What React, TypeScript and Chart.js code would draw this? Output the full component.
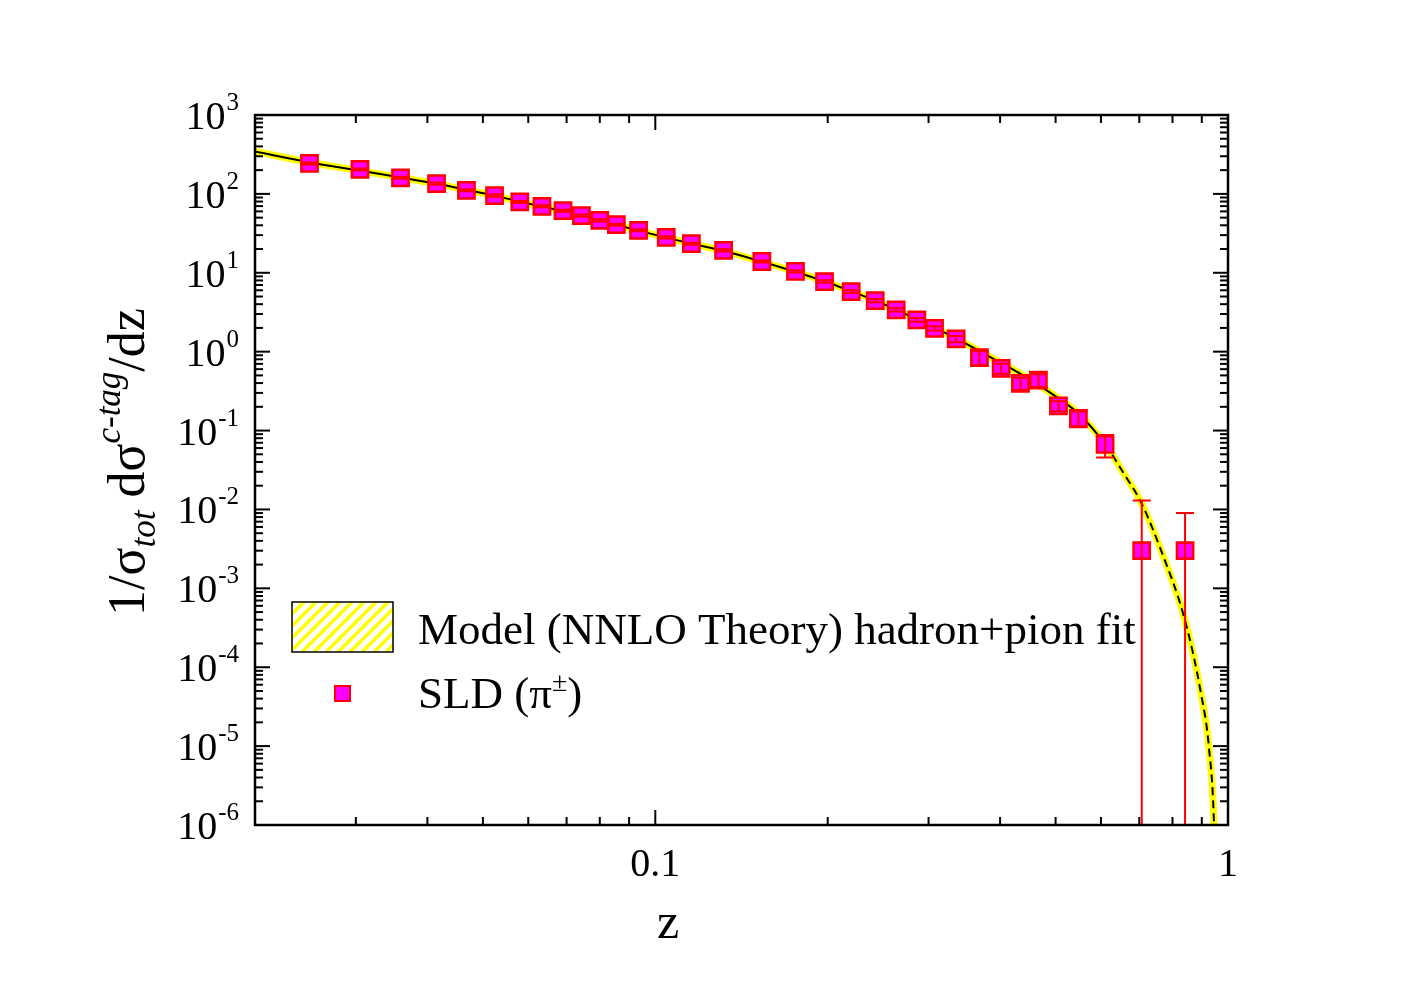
import { useEffect, useRef } from "react";
import { Chart, registerables } from "chart.js";

Chart.register(...registerables);

// SLD charged-pion fragmentation, c-tagged events
const sldZ = [
  0.0249, 0.0305, 0.0359, 0.0415, 0.0468, 0.0524, 0.058, 0.0634, 0.069, 0.0743,
  0.08, 0.0855, 0.0935, 0.1045, 0.1156, 0.1316, 0.1535, 0.1757, 0.1975, 0.2198,
  0.2421, 0.2634, 0.2862, 0.3073, 0.3352, 0.3681, 0.4017, 0.4341, 0.4666, 0.5057,
  0.548, 0.6101, 0.7069, 0.8414,
];
const sldValue = [
  243, 204, 160, 135, 111, 95.1, 79.1, 69.6, 61.3, 53.0,
  46.2, 40.7, 34.5, 28.1, 23.4, 19.2, 13.9, 10.4, 7.75, 5.78,
  4.44, 3.39, 2.53, 1.98, 1.45, 0.839, 0.615, 0.396, 0.437, 0.206,
  0.1425, 0.0666, 0.003, 0.003,
];
const sldError = [
  7, 6, 5, 4, 3.3, 2.8, 2.4, 2.1, 1.8, 1.6,
  1.4, 1.2, 1.0, 0.85, 0.7, 0.6, 0.45, 0.35, 0.28, 0.22,
  0.2, 0.17, 0.14, 0.12, 0.13, 0.17, 0.09, 0.07, 0.08, 0.03,
  0.032, 0.021, 0.01, 0.006,
];

// NNLO model curve (hadron+pion fit)
const modelZ = [
  0.02, 0.025, 0.0304, 0.0359, 0.0415, 0.0468, 0.0524, 0.0579, 0.0635, 0.0691,
  0.0743, 0.0799, 0.0855, 0.0934, 0.1045, 0.1156, 0.1314, 0.1537, 0.1755, 0.1972,
  0.2198, 0.2421, 0.2634, 0.2865, 0.3068, 0.3352, 0.3676, 0.4017, 0.4335, 0.4661,
  0.505, 0.5473, 0.6101, 0.6557, 0.705, 0.7641, 0.8414, 0.8973, 0.9264, 0.9454,
  0.952,
];
const modelValue = [
  345, 250, 198, 161, 135, 112, 95.1, 79.9, 69.0, 60.4,
  53.0, 46.5, 40.7, 34.2, 27.9, 23.4, 19.0, 13.8, 10.3, 7.8,
  5.82, 4.47, 3.39, 2.57, 2.03, 1.47, 1.02, 0.718, 0.528, 0.383,
  0.258, 0.166, 0.0672, 0.0296, 0.0123, 0.00302, 3.9e-4, 4.6e-5, 9.5e-6, 1.0e-6,
  1e-7,
];
// beyond this z the curve is an extrapolation (dashed)
const dashedFromZ = 0.55;

const yDecades = [3, 2, 1, 0, -1, -2, -3, -4, -5, -6];
const minorMultipliers = [2, 3, 4, 5, 6, 7, 8, 9];
const xDecadeStarts = [0.01, 0.1];
const xTickLabels = [
  { value: 0.1, text: "0.1" },
  { value: 1, text: "1" },
];

const legendModel = "Model (NNLO Theory) hadron+pion fit";
const legendData = ["SLD (\u03c0", "\u00b1", ")"];

const SERIF = '"Liberation Serif", "Times New Roman", serif';
const YELLOW = "#ffff00";
const MAGENTA = "#ff00ff";
const RED = "#ff0000";

type Piece = { text: string; font: string; shift: number };

function drawPieces(ctx: CanvasRenderingContext2D, pieces: Piece[], x: number, y: number) {
  let cx = x;
  for (const p of pieces) {
    ctx.font = p.font;
    ctx.fillText(p.text, cx, y + p.shift);
    cx += ctx.measureText(p.text).width;
  }
}

const errorBarPlugin = {
  id: "errorBars",
  afterDatasetsDraw(chart: any) {
    const { ctx, chartArea: a, scales } = chart;
    const xs = scales.x;
    const ys = scales.y;
    ctx.save();
    ctx.beginPath();
    ctx.rect(a.left, a.top, a.right - a.left, a.bottom - a.top);
    ctx.clip();
    ctx.strokeStyle = RED;
    ctx.lineWidth = 2;
    const cap = 9;
    sldZ.forEach((z, i) => {
      const px = xs.getPixelForValue(z);
      const hi = sldValue[i] + sldError[i];
      const lo = sldValue[i] - sldError[i];
      const pyHi = ys.getPixelForValue(hi);
      const pyLo = lo > 0 ? ys.getPixelForValue(lo) : a.bottom + 20;
      ctx.beginPath();
      ctx.moveTo(px, pyHi);
      ctx.lineTo(px, pyLo);
      ctx.moveTo(px - cap, pyHi);
      ctx.lineTo(px + cap, pyHi);
      if (lo > 0) {
        ctx.moveTo(px - cap, pyLo);
        ctx.lineTo(px + cap, pyLo);
      }
      ctx.stroke();
    });
    ctx.restore();
  },
};

const framePlugin = {
  id: "frameAndLabels",
  afterDraw(chart: any) {
    const { ctx, chartArea: a, scales } = chart;
    const xs = scales.x;
    const ys = scales.y;
    ctx.save();
    ctx.strokeStyle = "#000";
    ctx.fillStyle = "#000";
    ctx.lineWidth = 2.5;
    ctx.lineCap = "butt";

    // frame
    ctx.strokeRect(a.left, a.top, a.right - a.left, a.bottom - a.top);
    ctx.lineWidth = 2;

    const seg = (x1: number, y1: number, x2: number, y2: number) => {
      ctx.beginPath();
      ctx.moveTo(x1, y1);
      ctx.lineTo(x2, y2);
      ctx.stroke();
    };
    const majorLen = 15;
    const minorLen = 8;

    // y ticks, inward on both sides
    yDecades.forEach((e) => {
      const base = Math.pow(10, e);
      const py = ys.getPixelForValue(base);
      seg(a.left, py, a.left + majorLen, py);
      seg(a.right, py, a.right - majorLen, py);
      if (e < 3) {
        minorMultipliers.forEach((m) => {
          const pm = ys.getPixelForValue(m * base);
          seg(a.left, pm, a.left + minorLen, pm);
          seg(a.right, pm, a.right - minorLen, pm);
        });
      }
    });

    // x ticks, inward on both sides
    xDecadeStarts.forEach((base) => {
      minorMultipliers.forEach((m) => {
        const v = m * base;
        if (v <= 0.02) return;
        const px = xs.getPixelForValue(v);
        seg(px, a.bottom, px, a.bottom - minorLen);
        seg(px, a.top, px, a.top + minorLen);
      });
    });
    xTickLabels.forEach((t) => {
      const px = xs.getPixelForValue(t.value);
      seg(px, a.bottom, px, a.bottom - majorLen);
      seg(px, a.top, px, a.top + majorLen);
    });

    // y tick labels 10^n
    ctx.textBaseline = "alphabetic";
    yDecades.forEach((e) => {
      const py = ys.getPixelForValue(Math.pow(10, e));
      const expText = String(e);
      ctx.font = `25px ${SERIF}`;
      const wExp = ctx.measureText(expText).width;
      ctx.textAlign = "left";
      const right = 239;
      ctx.fillText(expText, right - wExp, py - 5);
      ctx.font = `40px ${SERIF}`;
      ctx.textAlign = "right";
      ctx.fillText("10", right - wExp - 1, py + 14);
    });

    // x tick labels
    ctx.textAlign = "center";
    ctx.font = `40px ${SERIF}`;
    xTickLabels.forEach((t) => {
      const px = xs.getPixelForValue(t.value);
      ctx.fillText(t.text, px, a.bottom + 51);
    });

    // x title
    ctx.font = `50px ${SERIF}`;
    ctx.fillText("z", 668, 938);

    // y title, rotated
    ctx.save();
    ctx.translate(144, 616);
    ctx.rotate(-Math.PI / 2);
    ctx.textAlign = "left";
    const main = `52px ${SERIF}`;
    const small = `italic 35px ${SERIF}`;
    drawPieces(
      ctx,
      [
        { text: "1/\u03c3", font: main, shift: 0 },
        { text: "tot", font: small, shift: 11 },
        { text: " d\u03c3", font: main, shift: 0 },
        { text: "c-tag", font: small, shift: -24 },
        { text: "/dz", font: main, shift: 0 },
      ],
      0,
      0
    );
    ctx.restore();

    // legend: hatched model box
    const bx = 292, by = 602, bw = 101, bh = 50;
    ctx.save();
    ctx.beginPath();
    ctx.rect(bx, by, bw, bh);
    ctx.clip();
    ctx.strokeStyle = YELLOW;
    ctx.lineWidth = 3.5;
    for (let k = -bh; k < bw + bh; k += 12) {
      seg(bx + k, by + bh, bx + k + bh, by);
    }
    ctx.restore();
    ctx.strokeStyle = "#000";
    ctx.lineWidth = 1.5;
    ctx.strokeRect(bx, by, bw, bh);

    ctx.textAlign = "left";
    ctx.font = `45px ${SERIF}`;
    ctx.fillText(legendModel, 418, 644);

    // legend: data marker
    ctx.fillStyle = MAGENTA;
    ctx.strokeStyle = RED;
    ctx.lineWidth = 2;
    ctx.fillRect(335, 686, 15, 15);
    ctx.strokeRect(335, 686, 15, 15);
    ctx.fillStyle = "#000";
    drawPieces(
      ctx,
      [
        { text: legendData[0], font: `45px ${SERIF}`, shift: 0 },
        { text: legendData[1], font: `28px ${SERIF}`, shift: -17 },
        { text: legendData[2], font: `45px ${SERIF}`, shift: 0 },
      ],
      418,
      708
    );

    ctx.restore();
  },
};

export default function App() {
  const ref = useRef<HTMLCanvasElement>(null);

  useEffect(() => {
    if (!ref.current) return;
    const modelPoints = modelZ.map((z, i) => ({ x: z, y: modelValue[i] }));
    const chart = new Chart(ref.current, {
      type: "scatter",
      data: {
        datasets: [
          {
            type: "line",
            label: "band",
            data: modelPoints,
            borderColor: YELLOW,
            borderWidth: 7,
            pointRadius: 0,
            cubicInterpolationMode: "monotone",
            clip: 0,
            order: 3,
          } as any,
          {
            type: "line",
            label: "model",
            data: modelPoints,
            borderColor: "#000",
            borderWidth: 2,
            pointRadius: 0,
            cubicInterpolationMode: "monotone",
            clip: 0,
            order: 2,
            segment: {
              borderDash: (c: any) => (c.p0.parsed.x >= dashedFromZ ? [8, 5] : undefined),
            },
          } as any,
          {
            type: "scatter",
            label: "SLD",
            data: sldZ.map((z, i) => ({ x: z, y: sldValue[i] })),
            pointStyle: "rect",
            pointRadius: 11.5,
            backgroundColor: MAGENTA,
            borderColor: RED,
            borderWidth: 2.5,
            order: 1,
          } as any,
        ],
      },
      options: {
        responsive: false,
        animation: false,
        events: [],
        layout: { padding: { left: 255, top: 115, right: 200, bottom: 165 } },
        plugins: { legend: { display: false }, tooltip: { enabled: false } },
        scales: {
          x: { type: "logarithmic", min: 0.02, max: 1, display: false },
          y: { type: "logarithmic", min: 1e-6, max: 1e3, display: false },
        },
      },
      plugins: [errorBarPlugin, framePlugin],
    });
    return () => chart.destroy();
  }, []);

  return (
    <div style={{ position: "absolute", left: 0, top: 0, width: 1428, height: 990, background: "#fff" }}>
      <canvas ref={ref} width={1428} height={990} style={{ display: "block" }} />
    </div>
  );
}
